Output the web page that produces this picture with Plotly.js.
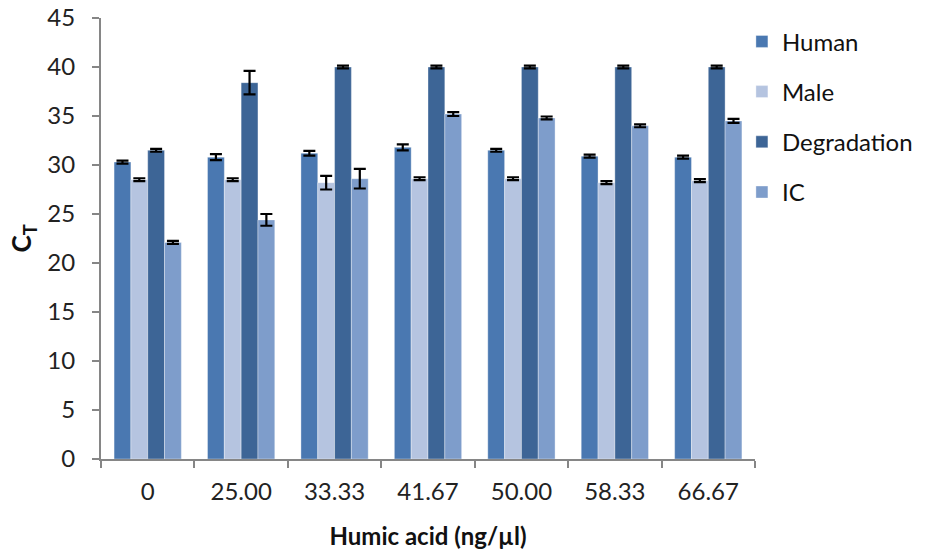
<!DOCTYPE html>
<html>
<head>
<meta charset="utf-8">
<script src="https://cdn.plot.ly/plotly-3.0.1.min.js"></script>
<style>
  html, body { margin: 0; padding: 0; background: #fff; }
  #chart { width: 936px; height: 556px; }
</style>
</head>
<body>
<div id="chart"></div>
<script>
// Humic acid concentrations (ng/µl)
const categories = ['0', '25.00', '33.33', '41.67', '50.00', '58.33', '66.67'];

// Mean CT values per assay
const human       = [30.3, 30.8, 31.2, 31.8, 31.5, 30.9, 30.8];
const male        = [28.5, 28.5, 28.2, 28.6, 28.6, 28.2, 28.4];
const degradation = [31.5, 38.4, 40.0, 40.0, 40.0, 40.0, 40.0];
const ic          = [22.1, 24.4, 28.6, 35.2, 34.8, 34.0, 34.5];

// Standard deviations
const humanErr       = [0.15, 0.3, 0.25, 0.3, 0.15, 0.15, 0.15];
const maleErr        = [0.15, 0.15, 0.7, 0.15, 0.15, 0.15, 0.15];
const degradationErr = [0.15, 1.2, 0.15, 0.15, 0.15, 0.15, 0.15];
const icErr          = [0.15, 0.6, 1.0, 0.2, 0.15, 0.15, 0.2];

const seriesNames = ['Human', 'Male', 'Degradation', 'IC'];
const colors = ['#4A78B1', '#B5C4E0', '#3D6596', '#7E9DCB'];

const values = [human, male, degradation, ic];
const errors = [humanErr, maleErr, degradationErr, icErr];

const FONT = 'Lato, "Open Sans", sans-serif';

const traces = seriesNames.map((name, i) => ({
  type: 'bar',
  name: name,
  legendgroup: name,
  x: categories,
  y: values[i],
  marker: { color: colors[i], line: { color: 'rgba(255,255,255,0.35)', width: 1 } },
  error_y: { type: 'data', array: errors[i], visible: true, color: '#000', thickness: 2.2, width: 6 },
  hoverinfo: 'x+y+name'
}));

const layout = {
  width: 936,
  height: 556,
  margin: { l: 101, r: 181, t: 18, b: 97 },
  paper_bgcolor: '#fff',
  plot_bgcolor: '#fff',
  font: { family: FONT, size: 22, color: '#222' },
  barmode: 'group',
  bargap: 0.28,
  bargroupgap: 0,
  showlegend: true,
  legend: {
    x: 0.98, xanchor: 'left', y: 0.997, yanchor: 'top',
    font: { family: FONT, size: 24, color: '#111' },
    tracegroupgap: 16,
    itemwidth: 30,
    bgcolor: 'rgba(0,0,0,0)'
  },
  xaxis: {
    type: 'category',
    showline: true, linecolor: '#868686', linewidth: 2,
    ticks: 'outside', tickson: 'boundaries', ticklen: 7, tickwidth: 2, tickcolor: '#868686',
    showgrid: false, zeroline: false,
    ticklabelstandoff: 10,
    tickfont: { family: FONT, size: 24, color: '#222' },
    title: { text: '<b>Humic acid (ng/µl)</b>', font: { family: FONT, size: 24, color: '#111' }, standoff: 24 }
  },
  yaxis: {
    range: [0, 45], dtick: 5,
    showline: true, linecolor: '#868686', linewidth: 2,
    ticks: 'outside', ticklen: 7, tickwidth: 2, tickcolor: '#868686',
    showgrid: false, zeroline: false,
    ticklabelstandoff: 12,
    tickfont: { family: FONT, size: 24, color: '#222' },
    title: { text: '<b>C<sub>T</sub></b>', font: { family: FONT, size: 26, color: '#111' }, standoff: 8 }
  }
};

Plotly.newPlot('chart', traces, layout, { displayModeBar: false, staticPlot: true });
</script>
</body>
</html>
